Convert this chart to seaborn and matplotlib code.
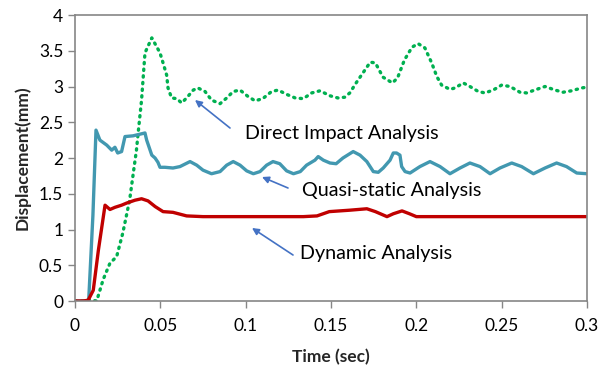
import matplotlib
matplotlib.use("Agg")
import matplotlib.pyplot as plt
import seaborn as sns

# Direct Impact Analysis (green dotted)
t_direct = [0, 0.005, 0.0075, 0.0127, 0.0165, 0.0205, 0.0244, 0.028, 0.032, 0.036, 0.037, 0.039, 0.041,
            0.045, 0.048, 0.0498, 0.0516, 0.0537, 0.0545, 0.0566, 0.0596, 0.0625, 0.0654, 0.0693,
            0.072, 0.0762, 0.080, 0.085, 0.0889, 0.0927, 0.0967, 0.1014, 0.1055, 0.110, 0.1152,
            0.119, 0.124, 0.129, 0.1338, 0.1387, 0.1436, 0.1494, 0.154, 0.158, 0.161,
            0.165, 0.169, 0.173, 0.176, 0.1805, 0.186, 0.189, 0.193, 0.1975, 0.201, 0.205, 0.209,
            0.212, 0.2148, 0.2197, 0.2227, 0.2275, 0.2314, 0.2363, 0.2402, 0.245, 0.250, 0.2549,
            0.2607, 0.2646, 0.2705, 0.2754, 0.2813, 0.286, 0.291, 0.2969, 0.300]
y_direct = [0, 0, 0.02, 0.0, 0.3, 0.53, 0.62, 0.95, 1.41, 2.11, 2.35, 2.81, 3.47,
            3.68, 3.55, 3.47, 3.33, 3.16, 2.98, 2.84, 2.83, 2.77, 2.84, 2.95,
            2.98, 2.93, 2.81, 2.76, 2.84, 2.93, 2.95, 2.86, 2.80, 2.83, 2.93,
            2.95, 2.89, 2.84, 2.83, 2.91, 2.94, 2.87, 2.84, 2.85, 2.91,
            3.06, 3.20, 3.34, 3.33, 3.13, 3.05, 3.12, 3.37, 3.55, 3.60, 3.54, 3.33,
            3.14, 3.02, 2.96, 2.98, 3.05, 3.00, 2.93, 2.91, 2.95, 3.02, 3.00,
            2.92, 2.91, 2.96, 3.00, 2.95, 2.92, 2.94, 2.98, 2.99]

# Quasi-static Analysis (teal)
t_quasi = [0, 0.008, 0.0105, 0.0123, 0.0146, 0.0186, 0.0215, 0.0234, 0.025, 0.0273, 0.0293, 0.034,
           0.041, 0.042, 0.045, 0.0469, 0.0486, 0.0498, 0.0527, 0.0574, 0.0615, 0.0674, 0.0713,
           0.075, 0.080, 0.085, 0.0889, 0.0927, 0.0967, 0.1006, 0.1045, 0.1084, 0.1123, 0.116,
           0.120, 0.124, 0.128, 0.132, 0.1357, 0.1406, 0.1425, 0.1455, 0.1494, 0.153, 0.157,
           0.163, 0.167, 0.171, 0.1748, 0.1777, 0.1806, 0.1846, 0.1865, 0.1884, 0.1904, 0.1914,
           0.1934, 0.1963, 0.2021, 0.208, 0.2139, 0.2197, 0.2256, 0.2314, 0.2373, 0.2432, 0.249,
           0.2559, 0.2617, 0.2686, 0.2754, 0.2822, 0.288, 0.294, 0.300]
y_quasi = [0, 0, 1.2, 2.39, 2.25, 2.18, 2.11, 2.15, 2.07, 2.09, 2.30, 2.31,
           2.35, 2.25, 2.04, 2.00, 1.94, 1.87, 1.87, 1.86, 1.88, 1.95, 1.90,
           1.83, 1.78, 1.81, 1.90, 1.95, 1.90, 1.82, 1.78, 1.81, 1.90, 1.95,
           1.92, 1.82, 1.78, 1.81, 1.90, 1.97, 2.02, 1.97, 1.93, 1.92, 2.00,
           2.09, 2.04, 1.95, 1.81, 1.80, 1.86, 1.97, 2.07, 2.07, 2.04, 1.88,
           1.81, 1.79, 1.88, 1.95, 1.88, 1.78, 1.86, 1.93, 1.88, 1.78, 1.86,
           1.93, 1.88, 1.78, 1.86, 1.93, 1.88, 1.79, 1.78]

# Dynamic Analysis (red)
t_dynamic = [0, 0.0047, 0.0077, 0.0107, 0.0137, 0.0176, 0.0205, 0.0234, 0.0273, 0.0303, 0.0352,
             0.039, 0.0428, 0.047, 0.0516, 0.0574, 0.0654, 0.075, 0.0947, 0.114, 0.1338, 0.1418,
             0.149, 0.155, 0.161, 0.171, 0.176, 0.1828, 0.1865, 0.1916, 0.196, 0.200, 0.250, 0.300]
y_dynamic = [0, 0, 0.01, 0.15, 0.71, 1.34, 1.28, 1.31, 1.34, 1.37, 1.41,
             1.43, 1.40, 1.32, 1.25, 1.24, 1.19, 1.18, 1.18, 1.18, 1.18, 1.19,
             1.25, 1.26, 1.27, 1.29, 1.25, 1.18, 1.22, 1.26, 1.22, 1.18, 1.18, 1.18]

x_ticks = [0, 0.05, 0.1, 0.15, 0.2, 0.25, 0.3]
x_tick_labels = ["0", "0.05", "0.1", "0.15", "0.2", "0.25", "0.3"]
y_ticks = [0, 0.5, 1, 1.5, 2, 2.5, 3, 3.5, 4]
y_tick_labels = ["0", "0.5", "1", "1.5", "2", "2.5", "3", "3.5", "4"]

sns.set_theme(style="white")
plt.rcParams["font.family"] = ["Lato", "DejaVu Sans"]

fig = plt.figure(figsize=(6.06, 3.65), dpi=100)
ax = fig.add_axes([75 / 606, 1 - 301 / 365, 512 / 606, 286 / 365])

sns.lineplot(x=t_direct, y=y_direct, ax=ax, color="#00B050", linewidth=2.4,
             linestyle=(0, (0.4, 1.6)), dash_capstyle="round", sort=False)
sns.lineplot(x=t_quasi, y=y_quasi, ax=ax, color="#4298B0", linewidth=2.4, sort=False)
sns.lineplot(x=t_dynamic, y=y_dynamic, ax=ax, color="#C00000", linewidth=2.4, sort=False)

ax.set_xlim(0, 0.3)
ax.set_ylim(0, 4)
ax.set_xticks(x_ticks)
ax.set_xticklabels(x_tick_labels)
ax.set_yticks(y_ticks)
ax.set_yticklabels(y_tick_labels)
ax.tick_params(axis="both", labelsize=12.5, labelcolor="#000000", length=5, width=1,
               direction="out", bottom=True, left=True, color="#868686")
ax.tick_params(axis="x", pad=7)
for s in ax.spines.values():
    s.set_color("#868686")
    s.set_linewidth(1.2)

ax.set_xlabel("Time (sec)", fontsize=12.5, fontweight="bold", labelpad=11)
ax.set_ylabel("Displacement(mm)", fontsize=12.5, fontweight="bold", labelpad=6)

def px(xp, yp):
    return ((xp - 75) / 512 * 0.3, (301 - yp) / 286 * 4)

labels = [
    ("Direct Impact Analysis", (245, 133), (230, 128), (195, 100)),
    ("Quasi-static Analysis", (302, 190), (288, 188), (262, 177)),
    ("Dynamic Analysis", (300, 254), (293, 255), (252, 228)),
]
for text, tpos, tail, head in labels:
    ax.text(*px(*tpos), text, fontsize=14.2, ha="left", va="center", color="#000000")
    ax.annotate("", xy=px(*head), xytext=px(*tail),
                arrowprops=dict(arrowstyle="-|>", color="#4472C4", lw=1.2,
                                mutation_scale=10, shrinkA=0, shrinkB=0))

fig.savefig("out.png", dpi=100)
